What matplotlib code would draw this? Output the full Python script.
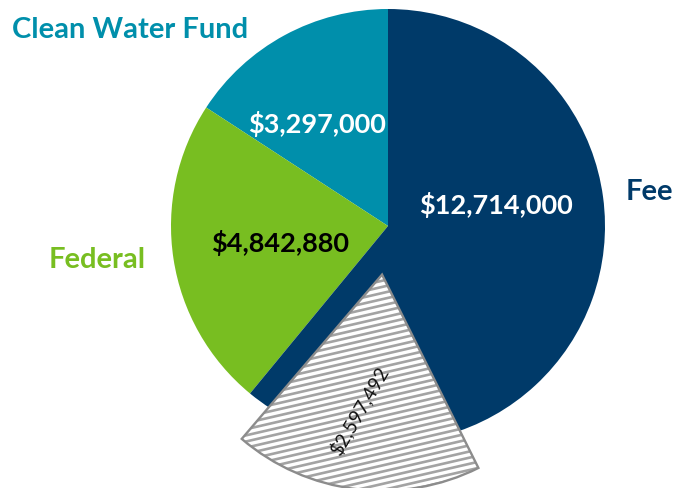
import numpy as np
import matplotlib.pyplot as plt
from matplotlib.patches import Wedge

plt.rcParams['font.family'] = ['Lato', 'DejaVu Sans']

# data
categories = ['Clean Water Fund', 'Federal', 'Fee']
amounts = [3297000, 4842880, 12714000]
colors = ['#008FAB', '#78BE21', '#003A69']
hatched_amount = 2597492

W, H = 674, 489
fig = plt.figure(figsize=(W / 100, H / 100), dpi=100)
ax = fig.add_axes([0, 0, 1, 1])

cx, cy, r = 388, H - 227, 217
ax.pie(amounts, colors=colors, startangle=90, counterclock=True,
       center=(cx, cy), radius=r, frame=True,
       wedgeprops=dict(linewidth=0))

# pulled-out hatched wedge (part of the fee slice)
t1, t2 = 229.5, 296.5
mid = np.deg2rad((t1 + t2) / 2)
hx, hy = cx + 49 * np.cos(mid), cy + 49 * np.sin(mid)
base = Wedge((hx, hy), 216, t1, t2, facecolor='white', edgecolor='none', zorder=3)
ax.add_patch(base)
ang = np.deg2rad(13)
d = np.array([np.cos(ang), np.sin(ang)])
n = np.array([-np.sin(ang), np.cos(ang)])
for k in range(-60, 60):
    p = np.array([hx, hy]) + k * 6.0 * n
    a, b = p - 400 * d, p + 400 * d
    ln, = ax.plot([a[0], b[0]], [a[1], b[1]], color='#a3a3a3', lw=1.9, zorder=4)
    ln.set_clip_path(base)
ax.add_patch(Wedge((hx, hy), 216, t1, t2, fill=False, edgecolor='#8c8c8c',
                   lw=1.7, zorder=5))

money = lambda v: '${:,.0f}'.format(v)

# value labels
ax.text(317, H - 133, money(amounts[0]), color='white', fontsize=19.5,
        fontweight='bold', ha='center', va='baseline', zorder=6)
ax.text(280, H - 252, money(amounts[1]), color='black', fontsize=19.5,
        fontweight='bold', ha='center', va='baseline', zorder=6)
ax.text(496, H - 214, money(amounts[2]), color='white', fontsize=19.5,
        fontweight='bold', ha='center', va='baseline', zorder=6)
ax.text(359, H - 411, money(hatched_amount), color='#111111', fontsize=14,
        rotation=60, ha='center', va='center', rotation_mode='anchor', zorder=6)

# category labels
ax.text(130, H - 38, categories[0], color=colors[0], fontsize=21,
        fontweight='bold', ha='center', va='baseline')
ax.text(97.5, H - 268, categories[1], color=colors[1], fontsize=21,
        fontweight='bold', ha='center', va='baseline')
ax.text(649.5, H - 200, categories[2], color=colors[2], fontsize=21,
        fontweight='bold', ha='center', va='baseline')

ax.set_xlim(0, W)
ax.set_ylim(0, H)
ax.set_aspect('equal')
ax.axis('off')

plt.savefig('out.png', dpi=100)
